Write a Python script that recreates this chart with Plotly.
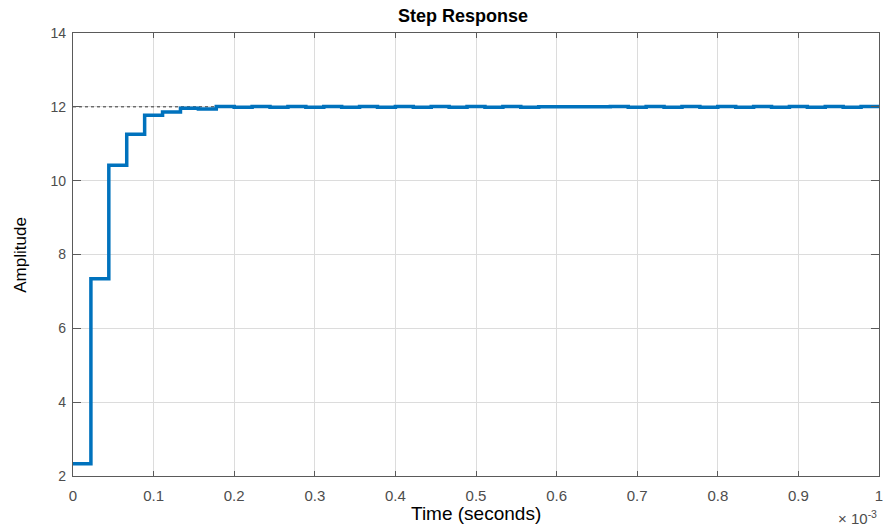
import plotly.graph_objects as go

# Sample time (seconds) of the discrete step response
Ts = 1e-3 / 45
# Amplitude at each sample (held until next sample)
amplitude = [2.33, 7.34, 10.42, 11.26, 11.77, 11.86, 11.96, 11.94,
             12.01, 11.99, 12.01, 11.99, 12.01, 11.99, 12.01, 11.99,
             12.01, 11.99, 12.01, 11.99, 12.01, 11.99, 12.01, 11.99,
             12.01, 11.99, 12.00, 12.00, 12.00, 12.00, 12.01, 11.99,
             12.01, 11.99, 12.01, 11.99, 12.01, 11.99, 12.01, 11.99,
             12.01, 11.99, 12.01, 11.99, 12.01, 12.01]
steady_state = 12.0
steady_line_end = 8 * Ts

x_ticks = [0, 0.1e-3, 0.2e-3, 0.3e-3, 0.4e-3, 0.5e-3, 0.6e-3, 0.7e-3, 0.8e-3, 0.9e-3, 1e-3]
x_tick_labels = ["0", "0.1", "0.2", "0.3", "0.4", "0.5", "0.6", "0.7", "0.8", "0.9", "1"]
y_ticks = [2, 4, 6, 8, 10, 12, 14]

t = [k * Ts for k in range(len(amplitude))]

FONT = "Liberation Sans, Arial"

fig = go.Figure()
fig.add_trace(go.Scatter(x=[0, steady_line_end], y=[steady_state, steady_state],
                         mode="lines", line=dict(color="#333333", width=1, dash="dot"),
                         hoverinfo="skip", showlegend=False))
fig.add_trace(go.Scatter(x=t, y=amplitude, mode="lines", line_shape="hv",
                         line=dict(color="#0072BD", width=3.5), showlegend=False))

axis_common = dict(showgrid=True, gridcolor="#dcdcdc", gridwidth=1,
                   showline=True, linecolor="#5a5a5a", linewidth=1.3, mirror="ticks",
                   ticks="inside", tickcolor="#5a5a5a", zeroline=False,
                   ticklabeloverflow="allow")

fig.update_xaxes(range=[0, 1e-3], tickvals=x_ticks, ticktext=x_tick_labels,
                 ticklen=5, ticklabelstandoff=6,
                 tickfont=dict(family=FONT, size=15, color="#4d4d4d"), **axis_common)
fig.update_yaxes(range=[2, 14], tickvals=y_ticks, ticklen=8, ticklabelstandoff=3,
                 tickfont=dict(family=FONT, size=14, color="#4d4d4d"), **axis_common)

fig.update_layout(
    width=887, height=526,
    margin=dict(l=73, r=4, t=33, b=50),
    plot_bgcolor="white", paper_bgcolor="white",
    title=dict(text="<b>Step Response</b>", x=463 / 887, xanchor="center",
               y=1 - 16 / 526, yanchor="middle", yref="container",
               font=dict(family=FONT, size=18, color="black")),
    annotations=[
        dict(text="Time (seconds)", xref="paper", yref="paper", x=0.5, y=-37 / 443,
             xanchor="center", yanchor="middle", showarrow=False,
             font=dict(family=FONT, size=19, color="black")),
        dict(text="Amplitude", xref="paper", yref="paper", x=-53 / 810, y=0.5,
             xanchor="center", yanchor="middle", textangle=-90, showarrow=False,
             font=dict(family=FONT, size=17, color="black")),
        dict(text="× 10<sup>-3</sup>", xref="paper", yref="paper", x=1.0, y=-41 / 443,
             xanchor="right", yanchor="middle", showarrow=False,
             font=dict(family=FONT, size=15, color="#4d4d4d")),
    ],
)

fig.write_html("out.html", config={"displayModeBar": False},
               post_script="document.body.style.margin='0';document.body.style.overflow='hidden';")
